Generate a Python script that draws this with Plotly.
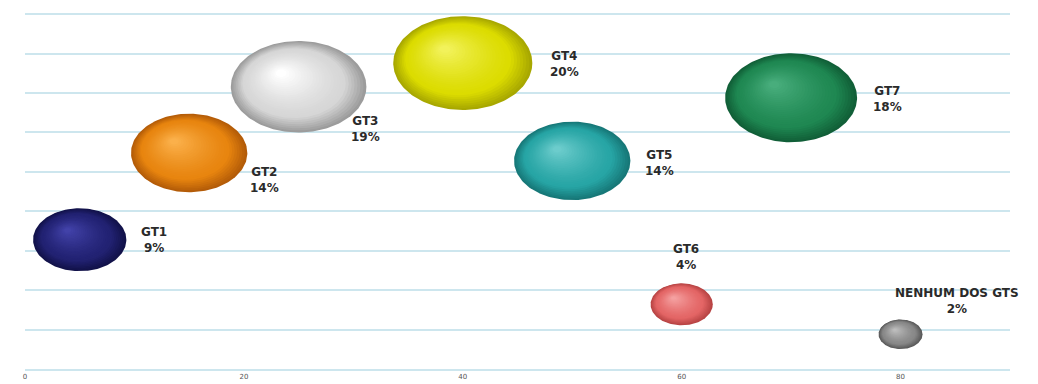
import numpy as np
import plotly.graph_objects as go

# ---- data ----------------------------------------------------------------
groups = ["GT1", "GT2", "GT3", "GT4", "GT5", "GT6", "GT7", "NENHUM DOS GTS"]
x_pos = [5, 15, 25, 40, 50, 60, 70, 80]
y_pos = [8.2, 13.7, 17.9, 19.4, 13.2, 4.1, 17.2, 2.2]
share_pct = [9, 14, 19, 20, 14, 4, 18, 2]
x_ticks = [0, 20, 40, 60, 80]

# ---- colours (edge, body, highlight) --------------------------------------
palette = [
    ("#12124a", "#222272", "#4242a8"),
    ("#b45c08", "#e8850f", "#fbb04a"),
    ("#9c9c9c", "#d6d6d6", "#ffffff"),
    ("#a8a800", "#dcdc00", "#f2f25a"),
    ("#177878", "#27a5a5", "#6ccccc"),
    ("#b84444", "#e46666", "#f5a0a0"),
    ("#115f38", "#1f8852", "#48ad7c"),
    ("#5a5a5a", "#888888", "#bdbdbd"),
]

# label placement: (xshift px, yshift px, xanchor)
label_pos = [
    (59, 0, "left"), (59, -27, "left"), (50, -42, "left"), (85, -1, "left"),
    (71, -2, "left"), (4, 47, "center"), (80, -1, "left"), (56, 33, "center"),
]

# ---- geometry of the plotting area ---------------------------------------
W, H = 1038, 384
M_L, M_R, M_T, M_B = 25, 28, 0, 15
X_RANGE = [0, 90]
Y_RANGE = [0, 23.4]
px_x = (W - M_L - M_R) / (X_RANGE[1] - X_RANGE[0])
px_y = (H - M_T - M_B) / (Y_RANGE[1] - Y_RANGE[0])

BUBBLE_K = 31.1      # bubble width in px per sqrt(percent)
ASPECT = 0.675       # bubble height / width
LAYERS = 28
theta = np.linspace(0, 2 * np.pi, 181)


def hex_rgb(h):
    h = h.lstrip("#")
    return np.array([int(h[i:i + 2], 16) for i in (0, 2, 4)], dtype=float)


def shade(edge, body, hi, t):
    # t = 0 at the rim, 1 at the highlight
    e, b, h = hex_rgb(edge), hex_rgb(body), hex_rgb(hi)
    if t < 0.25:
        c = e + (b - e) * (t / 0.25)
    else:
        u = (t - 0.25) / 0.75
        c = b + (h - b) * u ** 1.3
    return "rgb(%d,%d,%d)" % tuple(np.clip(c, 0, 255))


fig = go.Figure()

for i, name in enumerate(groups):
    w_px = BUBBLE_K * np.sqrt(share_pct[i])
    a = (w_px / 2) / px_x
    b = (w_px * ASPECT / 2) / px_y
    cx, cy = x_pos[i], y_pos[i]
    hx, hy = cx - 0.28 * a, cy + 0.32 * b
    edge, body, hi = palette[i]
    for k in range(LAYERS):
        s = 1 - 0.92 * k / (LAYERS - 1)
        ox = cx + (1 - s) * (hx - cx)
        oy = cy + (1 - s) * (hy - cy)
        fig.add_trace(go.Scatter(
            x=ox + s * a * np.cos(theta),
            y=oy + s * b * np.sin(theta),
            mode="lines", fill="toself",
            fillcolor=shade(edge, body, hi, k / (LAYERS - 1)),
            line=dict(width=0), hoverinfo="skip", showlegend=False,
        ))
    xs, ys, anchor = label_pos[i]
    fig.add_annotation(
        x=cx, y=cy, xref="x", yref="y",
        text="<b>%s<br>%d%%</b>" % (name, share_pct[i]),
        showarrow=False, xanchor=anchor, yanchor="middle",
        xshift=xs if anchor == "left" else xs, yshift=ys, align="center",
        font=dict(family="DejaVu Sans", size=12, color="#2a2a2a"),
    )

grid_col = "#cde6ee"
fig.update_layout(
    width=W, height=H,
    margin=dict(l=M_L, r=M_R, t=M_T, b=M_B),
    paper_bgcolor="white", plot_bgcolor="white",
    xaxis=dict(range=X_RANGE, tickvals=x_ticks, showgrid=False, zeroline=False,
               showline=True, linecolor=grid_col, linewidth=1.5, ticks="",
               tickfont=dict(family="DejaVu Sans", size=7, color="#555555"),
               automargin=False),
    yaxis=dict(range=Y_RANGE, dtick=2.5, tick0=0, showgrid=True,
               gridcolor=grid_col, gridwidth=1.5, zeroline=False,
               showticklabels=False, automargin=False),
)

fig.write_html("out.html")
